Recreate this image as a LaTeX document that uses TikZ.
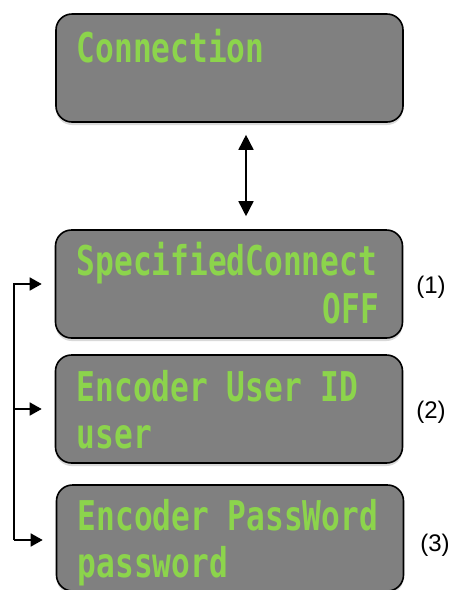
\documentclass[tikz,border=0pt]{standalone}
\usepackage{fontspec}
\setmainfont{Liberation Sans}
\newfontfamily\lcdfont[FakeStretch=0.76]{DejaVu Sans Mono Bold}
\usetikzlibrary{arrows.meta, shadows, positioning}
\definecolor{lcdgreen}{RGB}{140,212,76}
\definecolor{lcdgray}{RGB}{128,128,128}
\tikzstyle{panel}=[draw, line width=1.6pt, fill=lcdgray, rounded corners=16pt, minimum width=347pt, minimum height=108pt, drop shadow={shadow xshift=0pt, shadow yshift=-3pt, opacity=0.3}]
\tikzstyle{lcd}=[inner sep=0pt, text=lcdgreen, font=\lcdfont\fontsize{41}{41}\selectfont]
\tikzstyle{tag}=[inner sep=0pt, font=\fontsize{24}{24}\selectfont]

\begin{document}
\begin{tikzpicture}[x=1pt, y=-1pt, line width=1.6pt]
\useasboundingbox (0,0) rectangle (454,590);
\node[panel] (conn) at (229.5,68){};
\node[panel] (spec) at (229,284){}; \node[panel] (user) at (229,409){};
\node[panel, minimum height=106pt] (pass) at (230,538){};
%% display lines
\node[lcd, anchor=base west] (connl) at (76,62) {Connection};
\node[lcd, anchor=base west] (specl) at (76,275) {SpecifiedConnect};
\node[lcd, anchor=base east] (off) at (380,323) {OFF};
\node[lcd, anchor=base west] (userl) at (76,401) {Encoder User ID};
\node[lcd, anchor=base west] (userv) at (76,448) {user};
\node[lcd, anchor=base west] (passl) at (77,530) {Encoder PassWord};
\node[lcd, anchor=base west] (passv) at (77,577) {password};
\node[tag] (t1) at (431,287) {(1)}; \node[tag] (t2) at (431,412) {(2)}; \node[tag] (t3) at (435,545) {(3)};
%% connectors
\draw[{Triangle[width=15pt,length=15pt]}-{Triangle[width=15pt,length=15pt]}] ([xshift=16.5pt,yshift=-12pt]conn.south) -- ([xshift=17pt,yshift=13pt]spec.north);
\coordinate (bt) at (14,284); \coordinate (bb) at (14,540);
\tikzstyle{every path}=[-{Triangle[width=13pt,length=12pt]}];
\draw (bb) -- (bt) -- ([xshift=-13pt]spec.west);
\draw (bt |- user.west) -- ([xshift=-13pt]user.west);
\draw (bb) -- ([xshift=-13pt]pass.west |- bb);
\end{tikzpicture}
\end{document}
